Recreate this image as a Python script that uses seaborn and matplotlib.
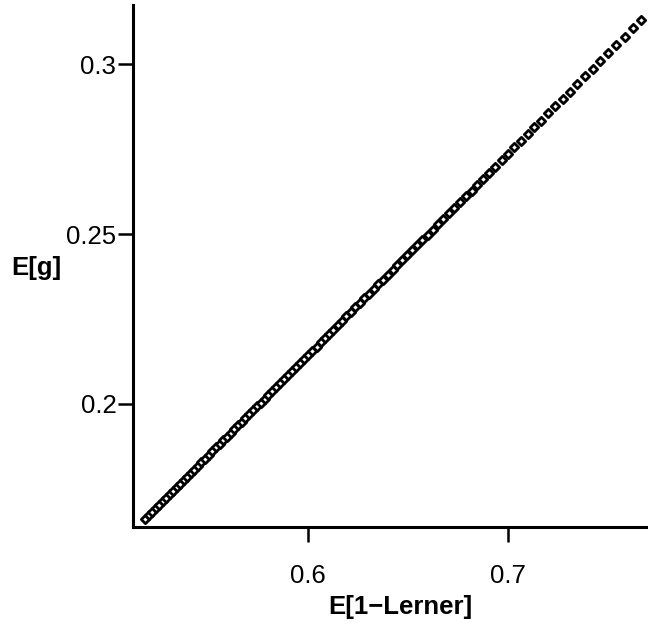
import matplotlib
matplotlib.use("Agg")
import matplotlib.pyplot as plt
import seaborn as sns
import pandas as pd

# Data
one_minus_lerner = [
    0.5185, 0.5203, 0.5220, 0.5238, 0.5255, 0.5273, 0.5290, 0.5308, 0.5325, 0.5343,
    0.5360, 0.5378, 0.5395, 0.5413, 0.5431, 0.5449, 0.5467, 0.5485, 0.5504, 0.5522,
    0.5540, 0.5558, 0.5577, 0.5595, 0.5613, 0.5632, 0.5650, 0.5669, 0.5687, 0.5706,
    0.5725, 0.5744, 0.5763, 0.5783, 0.5802, 0.5822, 0.5841, 0.5861, 0.5880, 0.5900,
    0.5919, 0.5939, 0.5959, 0.5980, 0.6001, 0.6022, 0.6043, 0.6064, 0.6085, 0.6106,
    0.6127, 0.6149, 0.6170, 0.6192, 0.6213, 0.6236, 0.6259, 0.6282, 0.6305, 0.6329,
    0.6352, 0.6376, 0.6399, 0.6423, 0.6447, 0.6471, 0.6495, 0.6521, 0.6546, 0.6572,
    0.6598, 0.6624, 0.6651, 0.6677, 0.6704, 0.6732, 0.6760, 0.6789, 0.6818, 0.6847,
    0.6877, 0.6907, 0.6937, 0.6968, 0.7000, 0.7032, 0.7065, 0.7099, 0.7132, 0.7166,
    0.7201, 0.7236, 0.7273, 0.7310, 0.7347, 0.7385, 0.7423, 0.7462, 0.7501, 0.7542,
    0.7583, 0.7625, 0.7667,
]
expected_g = [
    0.1662, 0.1672, 0.1683, 0.1693, 0.1703, 0.1714, 0.1724, 0.1734, 0.1745, 0.1755,
    0.1765, 0.1776, 0.1786, 0.1797, 0.1807, 0.1818, 0.1829, 0.1839, 0.1850, 0.1861,
    0.1872, 0.1883, 0.1894, 0.1904, 0.1915, 0.1926, 0.1937, 0.1948, 0.1959, 0.1970,
    0.1981, 0.1993, 0.2004, 0.2015, 0.2027, 0.2038, 0.2050, 0.2062, 0.2073, 0.2085,
    0.2096, 0.2108, 0.2120, 0.2132, 0.2144, 0.2157, 0.2169, 0.2182, 0.2194, 0.2207,
    0.2219, 0.2232, 0.2245, 0.2258, 0.2270, 0.2284, 0.2297, 0.2311, 0.2325, 0.2339,
    0.2352, 0.2366, 0.2380, 0.2394, 0.2408, 0.2423, 0.2437, 0.2452, 0.2467, 0.2483,
    0.2498, 0.2513, 0.2529, 0.2545, 0.2561, 0.2577, 0.2594, 0.2611, 0.2628, 0.2645,
    0.2663, 0.2681, 0.2698, 0.2717, 0.2736, 0.2755, 0.2774, 0.2794, 0.2814, 0.2834,
    0.2855, 0.2876, 0.2897, 0.2919, 0.2941, 0.2964, 0.2986, 0.3009, 0.3032, 0.3057,
    0.3081, 0.3106, 0.3130,
]
x_ticks = [0.6, 0.7]
x_tick_labels = ["0.6", "0.7"]
y_ticks = [0.2, 0.25, 0.3]
y_tick_labels = ["0.2", "0.25", "0.3"]
x_label = "E[1\u2212Lerner]"
y_label = "E[g]"

df = pd.DataFrame({"x": one_minus_lerner, "y": expected_g})

sns.set_theme(style="ticks")
plt.rcParams["font.family"] = ["Liberation Sans", "DejaVu Sans"]

W, H = 648, 625
fig = plt.figure(figsize=(W / 100, H / 100), dpi=100)
left_px, right_px, top_px, bottom_px = 133, 667, 5, 527
ax = fig.add_axes([left_px / W, 1 - bottom_px / H,
                   (right_px - left_px) / W, (bottom_px - top_px) / H])

sns.scatterplot(data=df, x="x", y="y", ax=ax, marker="D", s=18,
                facecolor="white", edgecolor="black", linewidth=2.0,
                legend=False, zorder=3)

ax.set_xlim(0.5125, 0.7795)
ax.set_ylim(0.1638, 0.3174)
ax.set_xticks(x_ticks)
ax.set_xticklabels(x_tick_labels)
ax.set_yticks(y_ticks)
ax.set_yticklabels(y_tick_labels)

for side in ["top", "right"]:
    ax.spines[side].set_visible(False)
for side in ["left", "bottom"]:
    ax.spines[side].set_linewidth(2.2)
    ax.spines[side].set_color("black")

ax.tick_params(axis="both", direction="out", length=10.5, width=1.8,
               colors="black", labelcolor="black", labelsize=18.5)
ax.tick_params(axis="y", pad=1.5)
ax.tick_params(axis="x", pad=16)

ax.set_xlabel(x_label, fontsize=18.5, fontweight="bold", labelpad=5,
              color="black")
ax.set_ylabel(y_label, fontsize=18.5, fontweight="bold", rotation=0,
              ha="center", va="center", color="black")
ax.yaxis.set_label_coords((36 - left_px) / (right_px - left_px), 0.496)

fig.savefig("out.png", dpi=100, facecolor="white")
